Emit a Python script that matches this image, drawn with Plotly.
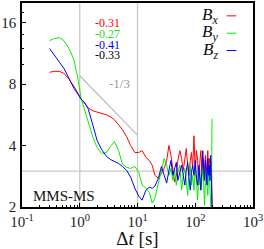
import plotly.graph_objects as go

# Δt [s] (shared grid)
dt = [0.30, 0.36, 0.44, 0.53, 0.65, 0.79, 0.95, 1.05, 1.2, 1.4,
      1.7, 2.0, 2.4, 2.9, 3.4, 4.0, 4.7, 5.5, 6.5, 7.6,
      9.0, 10.5, 12, 14, 16, 18, 20, 23, 26, 29,
      32, 35, 38, 41, 44, 47, 50, 54, 58, 62,
      66, 70, 74, 78, 82, 86, 90, 95, 100, 105,
      110, 115, 120, 125, 130, 135, 140, 145, 150, 155,
      160, 165, 170, 175, 180, 185, 190, 195, 200]

bx = [9.15, 9.25, 9.25, 9.05, 8.46, 7.82, 7.15, 6.77, 6.47, 6.12,
      5.92, 5.85, 5.78, 5.66, 5.53, 5.35, 5.06, 4.78, 4.42, 4.0,
      3.70, 3.70, 3.78, 3.50, 3.38, 3.20, 2.86, 2.77, 2.92, 3.09,
      3.38, 4.0, 3.58, 3.02, 2.65, 2.83, 3.38, 3.78, 3.46, 3.02,
      3.38, 3.87, 3.20, 2.86, 3.38, 3.70, 3.09, 4.47, 2.96, 3.78,
      3.38, 2.56, 3.31, 3.78, 3.02, 3.46, 2.70, 3.20, 3.58, 2.86,
      3.38, 3.78, 3.02, 3.46, 3.20, 2.86, 3.38, 2.70, 1.55]

by = [13.08, 13.38, 13.53, 13.08, 11.97, 10.58, 8.27, 6.84, 6.05, 5.29,
      4.37, 3.91, 3.66, 3.70, 3.96, 4.18, 3.78, 3.24, 3.13, 3.09,
      3.16, 2.96, 2.56, 2.47, 2.36, 2.09, 2.21, 2.62, 3.02, 3.46,
      3.20, 2.86, 3.09, 2.70, 3.02, 2.56, 2.96, 3.20, 2.42, 2.86,
      3.09, 2.65, 2.28, 3.02, 3.20, 2.56, 2.86, 2.42, 3.09, 2.70,
      2.16, 2.86, 3.02, 2.42, 2.77, 3.09, 2.56, 2.04, 2.70, 3.02,
      2.56, 2.28, 2.86, 3.09, 2.42, 2.16, 1.83, 5.41, None]

bz = [11.97, 11.19, 10.35, 9.57, 8.56, 7.65, 7.07, 6.77, 6.54, 6.05,
      5.0, 4.23, 3.82, 3.54, 3.42, 3.35, 3.27, 3.16, 3.02, 2.80,
      2.47, 2.26, 2.16, 2.42, 2.50, 2.47, 2.53, 2.77, 3.16, 2.86,
      2.62, 3.02, 3.38, 2.86, 3.09, 3.31, 2.70, 2.96, 3.20, 2.86,
      2.56, 3.02, 3.31, 2.77, 2.42, 2.96, 3.20, 2.86, 3.38, 2.77,
      2.56, 3.20, 2.86, 2.42, 3.02, 3.78, 3.09, 2.70, 3.38, 2.96,
      2.56, 3.46, 2.86, 3.20, 2.70, 3.58, 2.96, 2.42, 1.55]

slopes = ["-0.31", "-0.27", "-0.41", "-0.33"]
slope_colors = ["#ff0000", "#22dd22", "#0000ff", "#000000"]

# reference guide lines
ref_x_vert = [1, 10]
ref_y_horiz = 3
guide_x = [1, 10]
guide_y = [8.8, 4.5]

x_ticks = [0.1, 1, 10, 100, 1000]
x_ticktext = ["10<sup>-1</sup>", "10<sup>0</sup>", "10<sup>1</sup>", "10<sup>2</sup>", "10<sup>3</sup>"]
x_minor = [m * d for d in [0.1, 1, 10, 100] for m in range(2, 10)]
y_ticks = [2, 4, 8, 16]
y_ticktext = ["2", "4", "8", "16"]
y_minor = [6, 10, 12, 14, 18, 20]

FONT = "Liberation Serif"
GRAY = "#c8c8c8"

fig = go.Figure()
for xv in ref_x_vert:
    fig.add_trace(go.Scatter(x=[xv, xv], y=[2, 20], mode="lines",
                             line=dict(color=GRAY, width=1.3), hoverinfo="skip"))
fig.add_trace(go.Scatter(x=[0.1, 1000], y=[ref_y_horiz, ref_y_horiz], mode="lines",
                         line=dict(color=GRAY, width=1.3), hoverinfo="skip"))
fig.add_trace(go.Scatter(x=guide_x, y=guide_y, mode="lines",
                         line=dict(color="#bbbbbb", width=1.2), hoverinfo="skip"))

fig.add_trace(go.Scatter(x=dt, y=bx, mode="lines", line=dict(color="#ff0000", width=1), name="Bx"))
fig.add_trace(go.Scatter(x=dt, y=by, mode="lines", line=dict(color="#00ee00", width=1), name="By"))
fig.add_trace(go.Scatter(x=dt, y=bz, mode="lines", line=dict(color="#0000ff", width=1), name="Bz"))

fig.update_xaxes(type="log", range=[-1, 3], showline=True, mirror=True,
                 linecolor="black", linewidth=1.6, showgrid=False, zeroline=False,
                 ticks="inside", ticklen=4, tickwidth=1, tickcolor="black",
                 tickvals=x_ticks, ticktext=x_ticktext,
                 tickfont=dict(family=FONT, size=15, color="#222"),
                 minor=dict(ticks="inside", ticklen=2, tickwidth=1, tickcolor="black",
                            tickvals=x_minor, showgrid=False),
                 title=dict(text="Δ<i>t</i> [s]", font=dict(family=FONT, size=19, color="#111"),
                            standoff=2))
fig.update_yaxes(type="log", range=[0.30103, 1.30103], showline=True, mirror=True,
                 linecolor="black", linewidth=1.6, showgrid=False, zeroline=False,
                 ticks="inside", ticklen=4, tickwidth=1, tickcolor="black",
                 tickvals=y_ticks, ticktext=y_ticktext,
                 tickfont=dict(family=FONT, size=15, color="#222"),
                 minor=dict(ticks="inside", ticklen=2, tickwidth=1, tickcolor="black",
                            tickvals=y_minor, showgrid=False),
                 ticklabelstandoff=1)

ann = []
for i, (s, c) in enumerate(zip(slopes, slope_colors)):
    ann.append(dict(x=0.315, y=0.90 - i * 0.052, xref="paper", yref="paper",
                    text=s, showarrow=False, xanchor="left", yanchor="middle",
                    borderpad=0, borderwidth=0,
                    font=dict(family=FONT, size=12, color=c)))
ann.append(dict(x=0.375, y=0.607, xref="paper", yref="paper", text="-1/3",
                showarrow=False, xanchor="left", yanchor="middle",
                borderpad=0, borderwidth=0,
                font=dict(family=FONT, size=13, color="#999999")))
ann.append(dict(x=0.047, y=0.053, xref="paper", yref="paper", text="MMS-MS",
                showarrow=False, xanchor="left", yanchor="middle",
                borderpad=0, borderwidth=0,
                font=dict(family=FONT, size=15, color="#111")))

leg_labels = ["<i>B</i><sub><i>x</i></sub>", "<i>B</i><sub><i>y</i></sub>", "<i>B</i><sub><i>z</i></sub>"]
leg_colors = ["#ff0000", "#00ee00", "#0000ff"]
leg_y = [0.937, 0.852, 0.767]
shapes = []
for lab, col, yy in zip(leg_labels, leg_colors, leg_y):
    ann.append(dict(x=0.847, y=yy, xref="paper", yref="paper", text=lab,
                    showarrow=False, xanchor="right", yanchor="middle",
                    borderpad=0, borderwidth=0,
                    font=dict(family=FONT, size=17, color="#111")))
    shapes.append(dict(type="line", xref="paper", yref="paper",
                       x0=0.886, x1=0.928, y0=yy, y1=yy,
                       line=dict(color=col, width=1)))

fig.update_layout(width=264, height=249, margin=dict(l=17, r=11, t=1, b=42),
                  plot_bgcolor="white", paper_bgcolor="white", showlegend=False,
                  annotations=ann, shapes=shapes)

fig.write_html("out.html", config={"displayModeBar": False},
               post_script="document.body.style.margin='0';document.body.style.padding='0';")
